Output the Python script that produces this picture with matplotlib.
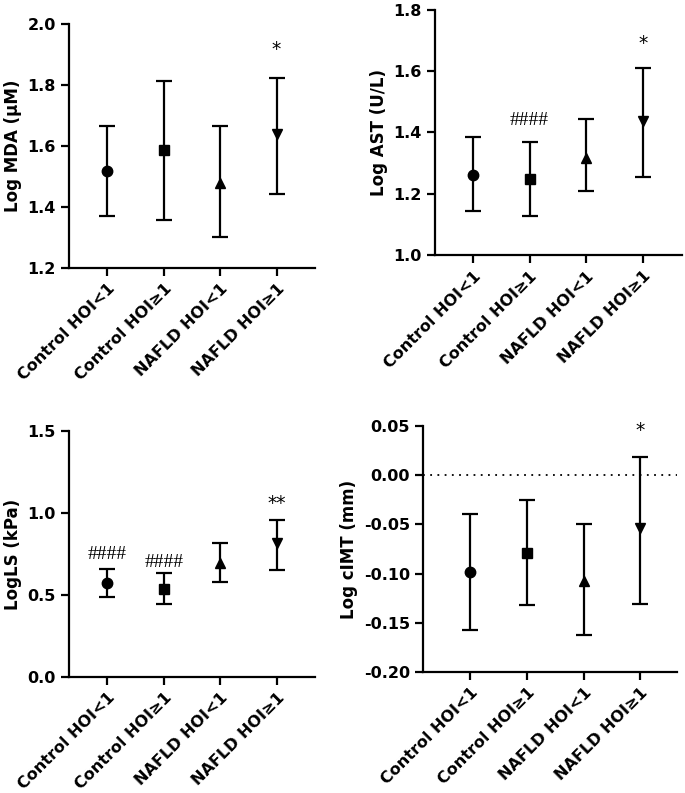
import matplotlib
matplotlib.use("Agg")
import matplotlib.pyplot as plt

plt.rcParams['font.family'] = ['DejaVu Sans']

# Dados
grupos = ["Control HOI<1", "Control HOI≥1", "NAFLD HOI<1", "NAFLD HOI≥1"]
marcadores = ["o", "s", "^", "v"]

mda_media = [1.519, 1.585, 1.480, 1.640]
mda_sup = [1.666, 1.814, 1.666, 1.822]
mda_inf = [1.371, 1.358, 1.303, 1.441]

ast_media = [1.263, 1.248, 1.318, 1.437]
ast_sup = [1.384, 1.369, 1.444, 1.610]
ast_inf = [1.143, 1.127, 1.209, 1.255]

ls_media = [0.573, 0.539, 0.695, 0.817]
ls_sup = [0.657, 0.632, 0.817, 0.955]
ls_inf = [0.488, 0.443, 0.579, 0.654]

cimt_media = [-0.098, -0.079, -0.107, -0.054]
cimt_sup = [-0.039, -0.025, -0.050, 0.019]
cimt_inf = [-0.157, -0.132, -0.162, -0.131]

# anotações: (índice do grupo, valor y, texto)
mda_notas = [(3, 1.915, "*")]
ast_notas = [(1, 1.44, "####"), (3, 1.689, "*")]
ls_notas = [(0, 0.748, "####"), (1, 0.697, "####"), (3, 1.057, "**")]
cimt_notas = [(3, 0.046, "*")]


def painel(fig, pos, media, sup, inf, ylabel, ylim, yticks, ytick_fmt, notas, xlim, linha_zero=False):
    ax = fig.add_axes(pos)
    x = list(range(len(grupos)))
    for i in x:
        ax.errorbar(i, media[i], yerr=[[media[i] - inf[i]], [sup[i] - media[i]]],
                    fmt=marcadores[i], color="black", markersize=7.5, elinewidth=1.6,
                    capsize=6, capthick=1.6)
    if linha_zero:
        ax.axhline(0, color="black", linestyle=(0, (1, 3)), linewidth=1.3)
    for i, y, txt in notas:
        if "#" in txt:
            ax.text(i, y, txt, ha="center", va="center", fontsize=14,
                    family=["Liberation Serif", "DejaVu Serif"])
        else:
            ax.text(i, y, txt, ha="center", va="center", fontsize=13.5)
    ax.set_xlim(*xlim)
    ax.set_ylim(*ylim)
    ax.set_yticks(yticks)
    ax.set_yticklabels([ytick_fmt.format(v) for v in yticks], fontweight="bold", fontsize=11.5)
    ax.set_xticks(x)
    ax.set_xticklabels(grupos, rotation=45, ha="right", rotation_mode="anchor",
                       fontweight="bold", fontsize=11.5)
    ax.set_ylabel(ylabel, fontweight="bold", fontsize=12)
    for lado in ["top", "right"]:
        ax.spines[lado].set_visible(False)
    for lado in ["left", "bottom"]:
        ax.spines[lado].set_linewidth(1.6)
    ax.tick_params(width=1.6, length=6, direction="out")
    return ax


fig = plt.figure(figsize=(6.85, 7.93), dpi=100)

painel(fig, [0.1007, 0.662, 0.359, 0.308], mda_media, mda_sup, mda_inf,
       "Log MDA (μM)", (1.2, 2.0), [1.2, 1.4, 1.6, 1.8, 2.0], "{:.1f}", mda_notas, (-0.68, 3.68))
painel(fig, [0.635, 0.678, 0.3606, 0.310], ast_media, ast_sup, ast_inf,
       "Log AST (U/L)", (1.0, 1.8), [1.0, 1.2, 1.4, 1.6, 1.8], "{:.1f}", ast_notas, (-0.67, 3.69))
painel(fig, [0.1007, 0.1463, 0.359, 0.310], ls_media, ls_sup, ls_inf,
       "LogLS (kPa)", (0.0, 1.5), [0.0, 0.5, 1.0, 1.5], "{:.1f}", ls_notas, (-0.68, 3.68))
painel(fig, [0.6175, 0.1526, 0.371, 0.310], cimt_media, cimt_sup, cimt_inf,
       "Log cIMT (mm)", (-0.20, 0.05), [-0.20, -0.15, -0.10, -0.05, 0.00, 0.05], "{:.2f}",
       cimt_notas, (-0.83, 3.65), linha_zero=True)

fig.savefig("out.png", dpi=100)
